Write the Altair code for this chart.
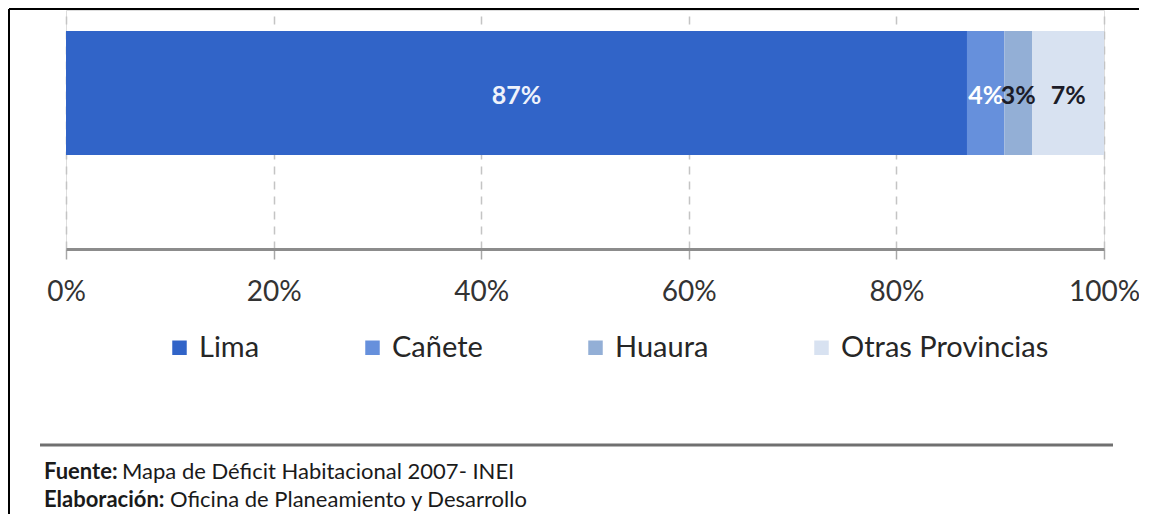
import altair as alt
import pandas as pd

categories = ["Lima", "Cañete", "Huaura", "Otras Provincias"]
values = [86.8, 3.6, 2.7, 6.9]
labels = ["87%", "4%", "3%", "7%"]
colors = ["#3164C8", "#6690DC", "#93AFD6", "#D8E2F1"]
label_colors = ["#EEF2FB", "#FFFFFF", "#1C1C28", "#1C1C28"]
ticks = [0, 20, 40, 60, 80, 100]
footer_bold = ["Fuente:", "Elaboración:"]
footer_text = ["Mapa de Déficit Habitacional 2007- INEI", "Oficina de Planeamiento y Desarrollo"]

FONT = "Lato"

df = pd.DataFrame({
    "cat": categories,
    "value": values,
    "label": labels,
    "order": list(range(len(categories))),
    "lcolor": label_colors,
})

base = alt.Chart(df).transform_window(
    cum="sum(value)", sort=[alt.SortField("order")], frame=[None, 0]
).transform_calculate(
    start="datum.cum - datum.value",
    mid="datum.cum - datum.value / 2",
    row="'all'",
)

yenc = alt.Y("row:N", scale=alt.Scale(paddingInner=0, paddingOuter=0.464, align=0.183), axis=None)
xscale = alt.Scale(domain=[0, 100], nice=False)

bars = base.mark_bar(stroke=None).encode(
    x=alt.X("start:Q", scale=xscale, axis=alt.Axis(
        values=ticks, labelExpr="datum.value + '%'", title=None,
        grid=True, gridDash=[8, 7], gridColor="#c4c4c4", gridWidth=1.5,
        domainColor="#8c8c8c", domainWidth=3,
        tickColor="#a8a8a8", tickSize=10, tickWidth=1.5,
        labelFont=FONT, labelFontSize=28, labelColor="#333333", labelPadding=19,
        labelFlush=False, labelOverlap=False,
    )),
    x2="cum:Q",
    y=yenc,
    color=alt.Color("cat:N", scale=alt.Scale(domain=categories, range=colors),
                    sort=categories,
                    legend=alt.Legend(
                        title=None, orient="none", direction="horizontal",
                        legendX=99, legendY=323, padding=0,
                        symbolType="square", symbolSize=210, symbolStrokeWidth=0,
                        labelFont=FONT, labelFontSize=29, labelColor="#262626",
                        labelOffset=5, columnPadding=98, labelLimit=0,
                    )),
)

texts = base.mark_text(font=FONT, fontSize=25, fontWeight="bold", baseline="middle", align="center", dy=3).encode(
    x=alt.X("mid:Q", scale=xscale),
    y=yenc,
    text="label:N",
    color=alt.Color("lcolor:N", scale=None, legend=None),
)

one = pd.DataFrame({"a": [1]})
rule_footer = alt.Chart(one).mark_rule(color="#707070", strokeWidth=3).encode(
    x=alt.value(-26), x2=alt.value(1047), y=alt.value(435))
border_top = alt.Chart(one).mark_rule(color="#000000", strokeWidth=2).encode(
    x=alt.value(-57), x2=alt.value(1080), y=alt.value(-1))
border_left = alt.Chart(one).mark_rule(color="#000000", strokeWidth=2).encode(
    x=alt.value(-57), y=alt.value(-1), y2=alt.value(520))

fdf = pd.DataFrame({"b": footer_bold, "t": footer_text})
fstyle = dict(font=FONT, fontSize=22, align="left", baseline="middle", color="#1a1a1a")
fb1 = alt.Chart(fdf.iloc[[0]]).mark_text(fontWeight="bold", **fstyle).encode(
    x=alt.value(-22), y=alt.value(462), text="b:N")
ft1 = alt.Chart(fdf.iloc[[0]]).mark_text(**fstyle).encode(
    x=alt.value(56), y=alt.value(462), text="t:N")
fb2 = alt.Chart(fdf.iloc[[1]]).mark_text(fontWeight="bold", **fstyle).encode(
    x=alt.value(-22), y=alt.value(490), text="b:N")
ft2 = alt.Chart(fdf.iloc[[1]]).mark_text(**fstyle).encode(
    x=alt.value(104), y=alt.value(490), text="t:N")

chart = alt.layer(bars, texts, rule_footer, border_top, border_left, fb1, ft1, fb2, ft2).properties(
    width=1038, height=239,
    autosize=alt.AutoSizeParams(type="none"),
    padding={"left": 58, "top": 2, "right": 35, "bottom": 265},
).configure_view(stroke=None).configure(background="#ffffff")

chart.save("out.html", embed_options={"renderer": "svg", "actions": False})
